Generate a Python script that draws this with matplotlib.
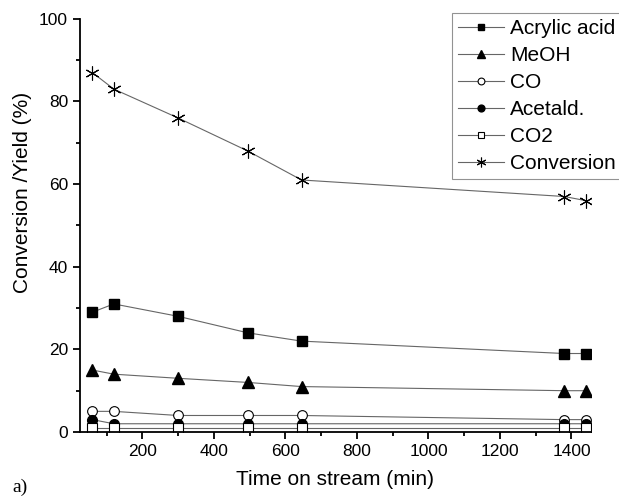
import matplotlib.pyplot as plt
from matplotlib.ticker import MultipleLocator

# Time on stream (min)
time_min = [60, 120, 300, 495, 645, 1380, 1440]

# Yields and conversion (%)
acrylic_acid = [29, 31, 28, 24, 22, 19, 19]
meoh = [15, 14, 13, 12, 11, 10, 10]
co = [5, 5, 4, 4, 4, 3, 3]
acetald = [3, 2, 2, 2, 2, 2, 2]
co2 = [1, 1, 1, 1, 1, 1, 1]
conversion = [87, 83, 76, 68, 61, 57, 56]

plt.rcParams['font.family'] = ['Liberation Sans', 'DejaVu Sans']

fig = plt.figure(figsize=(6.19, 4.96), dpi=100)
ax = fig.add_axes([0.129, 0.129, 0.826, 0.833])

line_kw = dict(color='#666666', linewidth=0.8, markeredgecolor='black')
ax.plot(time_min, acrylic_acid, marker='s', markersize=7, markerfacecolor='black', label='Acrylic acid', **line_kw)
ax.plot(time_min, meoh, marker='^', markersize=8, markerfacecolor='black', label='MeOH', **line_kw)
ax.plot(time_min, co, marker='o', markersize=7, markerfacecolor='white', markeredgewidth=0.8, label='CO', **line_kw)
ax.plot(time_min, acetald, marker='o', markersize=7, markerfacecolor='black', label='Acetald.', **line_kw)
ax.plot(time_min, co2, marker='s', markersize=7, markerfacecolor='white', markeredgewidth=0.8, label='CO2', **line_kw)
ax.plot(time_min, conversion, marker=(6, 2, 0), markersize=10, markeredgewidth=0.8, label='Conversion', **line_kw)

ax.set_xlim(25, 1455)
ax.set_ylim(0, 100)
ax.xaxis.set_minor_locator(MultipleLocator(100))
ax.yaxis.set_major_locator(MultipleLocator(20))
ax.yaxis.set_minor_locator(MultipleLocator(10))
ax.set_xticks(range(200, 1401, 200))

for side in ['top', 'right']:
    ax.spines[side].set_visible(False)
for side in ['left', 'bottom']:
    ax.spines[side].set_linewidth(1.3)
ax.tick_params(which='major', direction='out', length=5, width=1.3, labelsize=12.5)
ax.tick_params(which='minor', direction='out', length=3, width=1.3)

ax.set_xlabel('Time on stream (min)', fontsize=15, labelpad=8)
ax.set_ylabel('Conversion /Yield (%)', fontsize=15)
ax.yaxis.set_label_coords(-0.094, 0.58)

leg = ax.legend(loc='upper left', bbox_to_anchor=(452 / 619, 1 - 13 / 496),
                bbox_transform=fig.transFigure, fontsize=15,
                frameon=True, fancybox=False, edgecolor='#777777',
                handlelength=2.2, handletextpad=0.3, labelspacing=0.38,
                borderpad=0.3, borderaxespad=0, markerscale=0.7)
leg.get_frame().set_linewidth(0.8)

fig.text(0.02, 0.008, 'a)', fontsize=14, family='Liberation Serif')

fig.savefig('out.png', dpi=100)
